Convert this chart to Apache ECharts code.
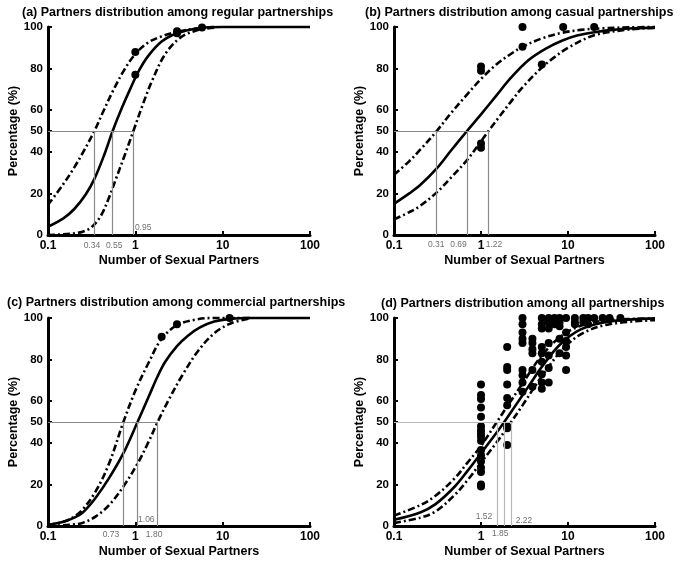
<!DOCTYPE html>
<html>
<head>
<meta charset="utf-8">
<script src="https://cdn.jsdelivr.net/npm/echarts@6/dist/echarts.min.js"></script>
<style>html,body{margin:0;padding:0;background:#fff}#c{width:685px;height:563px}</style>
</head>
<body>
<div id="c"></div>
<script>
// ---------- DATA ----------
const titles = [
  '(a) Partners distribution among regular partnerships',
  '(b) Partners distribution among casual partnerships',
  '(c) Partners distribution among commercial partnerships',
  '(d) Partners distribution among all partnerships'
];
const xName = 'Number of Sexual Partners';
const yName = 'Percentage (%)';
const yTickValues = [0, 20, 40, 50, 60, 80, 100];

// Panel (a)
const aSolid = [[0.1,4],[0.15,8],[0.2,12.5],[0.27,19.5],[0.34,27],[0.44,38.5],[0.55,50],[0.7,61],[0.88,70.5],[1.1,79],[1.4,86],[2,93],[3,97],[5,99.3],[10,100],[100,100]];
const aUpper = [[0.1,14.5],[0.15,24.5],[0.2,32.5],[0.25,39.5],[0.34,50],[0.42,58.5],[0.55,69],[0.75,79.5],[1,87],[1.4,92.5],[2,95.5],[3,97.7],[5,99.3],[8,100]];
const aLower = [[0.1,0],[0.15,0.3],[0.2,0.8],[0.25,1.6],[0.31,3.5],[0.4,9],[0.5,18],[0.6,27],[0.75,38],[0.95,50],[1.2,62],[1.55,74],[2.2,87],[3.3,95],[5,98.3],[8,99.7]];
const aDots = [[1,88],[1,77],[3,97],[3,98],[5.8,99.7]];
const aCross = [0.34, 0.55, 0.95];
const aCrossText = ['0.34', '0.55', '0.95'];

// Panel (b)
const bSolid = [[0.1,15],[0.15,20],[0.2,24],[0.31,32],[0.45,40.5],[0.69,50],[1,58],[1.5,67],[2.2,75.5],[3.5,84],[5.5,89.5],[8.5,93.4],[13,96],[21,97.6],[32,98.6],[50,99.3],[100,99.7]];
const bUpper = [[0.1,29],[0.15,35.5],[0.2,41],[0.31,50],[0.45,58.5],[0.69,67.5],[1,75],[1.5,82],[2.2,87],[3,90.5],[5,94.5],[8.5,97.2],[14,98.6],[25,99.4],[50,99.8],[100,100]];
const bLower = [[0.1,7.5],[0.15,11],[0.2,14],[0.31,20.5],[0.45,27.5],[0.69,36],[1,45],[1.22,50],[1.6,56.5],[2.2,64],[3,71],[5,80.5],[7,85.5],[10,90],[20,96],[50,98.8],[100,99.6]];
const bDots = [[1,81],[1,79],[1,44],[1,42],[3,100],[3,90.5],[5,82],[8.8,100],[20,100]];
const bCross = [0.31, 0.69, 1.22];
const bCrossText = ['0.31', '0.69', '1.22'];

// Panel (c)
const cSolid = [[0.1,0.5],[0.15,2],[0.2,4],[0.25,6.5],[0.35,13.5],[0.5,23],[0.73,35],[1.06,50],[1.4,61.5],[1.8,72],[2.2,79],[3,86.5],[4,91.5],[5.5,95.5],[8,98.3],[12,99.6],[20,100],[100,100]];
const cUpper = [[0.1,0.5],[0.15,2],[0.2,4.5],[0.25,8],[0.35,16.5],[0.5,30],[0.73,50],[1,65],[1.4,78],[2,90],[3,96.5],[5,99.3],[8,100],[22,100]];
const cLower = [[0.1,0],[0.15,0.3],[0.2,0.8],[0.25,1.5],[0.35,4.5],[0.5,10],[0.73,19],[1.06,30],[1.4,40],[1.8,50],[2.4,60.5],[3.4,72],[5.3,84.5],[8.2,93],[12.5,97.5],[20,99.7]];
const cDots = [[2,91],[3,97],[12,100]];
const cCross = [0.73, 1.06, 1.80];
const cCrossText = ['0.73', '1.06', '1.80'];

// Panel (d)
const dSolid = [[0.1,3],[0.2,6.5],[0.3,10.5],[0.5,19],[0.7,26.5],[1,35],[1.4,43],[1.85,50],[2.5,58],[3.5,67],[5,76.5],[8,87],[14,94.5],[30,98.3],[100,99.8]];
const dUpper = [[0.1,5],[0.2,10],[0.3,14.5],[0.5,23],[0.7,30.5],[1,38.5],[1.52,50],[2,57.5],[3,68.5],[5,82],[8.5,91.5],[14.5,96.5],[30,99],[100,99.8]];
const dLower = [[0.1,1.5],[0.2,4],[0.3,7],[0.5,15],[0.7,22],[1,30.5],[1.5,40],[2.22,50],[3,58],[5,72],[8.5,84.5],[14.5,92.5],[30,97],[100,99]];
const dDotX = [1, 2, 3, 3.9, 5, 6, 7, 8, 9.5, 12, 15, 17, 20, 25, 30, 40];
const dDotY = [
  [19,20,26,28,31,34,36.5,41,43,44.5,46,48,52.5,57,61,63,68],
  [39,47,48,58,61.5,68,75,76.5,86],
  [64.5,69,72.5,75,88,90,93,97,100],
  [67,75,83,85,88,90],
  [66,69,73,79,83,86,95,97,100],
  [69,76,82,88,95,98,100],
  [97,99,100],
  [83,90,96,98,100],
  [75,82,86,89,93,100],
  [97,98,100],
  [98,100],
  [97,100],
  [100],
  [100],
  [99.5,100],
  [100]
];
const dCross = [1.52, 1.85, 2.22];
const dCrossText = ['1.52', '1.85', '2.22'];

// ---------- LAYOUT / STYLE ----------
const grids = [
  {left: 48, top: 27, width: 262, height: 208},
  {left: 394, top: 27, width: 261, height: 208},
  {left: 48, top: 318, width: 262, height: 208},
  {left: 394, top: 318, width: 261, height: 208}
];
const titlePos = [{left: 22, top: 6}, {left: 365, top: 6}, {left: 7, top: 296}, {left: 381, top: 297}];
// label placement for crossing-value texts (pixel offsets from the foot of each line)
const crossPlace = [
  [{a: 'center', dx: -2, dy: 11}, {a: 'center', dx: 2, dy: 11}, {a: 'left', dx: 2, dy: -7}],
  [{a: 'center', dx: 0, dy: 10}, {a: 'center', dx: -8, dy: 10}, {a: 'center', dx: 6, dy: 10}],
  [{a: 'center', dx: -12, dy: 9}, {a: 'left', dx: 1, dy: -6}, {a: 'center', dx: -3, dy: 9}],
  [{a: 'right', dx: -4, dy: -9}, {a: 'center', dx: -3.5, dy: 8}, {a: 'left', dx: 5, dy: -5}]
];
const refColor = ['#8a8a8a', '#8a8a8a', '#8a8a8a', '#b8b8b8'];

const panels = [
  {solid: aSolid, upper: aUpper, lower: aLower, dots: aDots, cross: aCross, text: aCrossText},
  {solid: bSolid, upper: bUpper, lower: bLower, dots: bDots, cross: bCross, text: bCrossText},
  {solid: cSolid, upper: cUpper, lower: cLower, dots: cDots, cross: cCross, text: cCrossText},
  {solid: dSolid, upper: dUpper, lower: dLower, dots: [], cross: dCross, text: dCrossText}
];
dDotX.forEach((x, i) => dDotY[i].forEach(y => panels[3].dots.push([x, y])));

const FONT = 'Liberation Sans, Arial, sans-serif';
const option = {
  animation: false,
  backgroundColor: '#fff',
  title: titles.map((t, i) => ({
    text: t, left: titlePos[i].left, top: titlePos[i].top, padding: 0,
    textStyle: {fontFamily: FONT, fontWeight: 'bold', fontSize: 12.5, color: '#000'}
  })),
  grid: grids,
  xAxis: grids.map((g, i) => ({
    type: 'log', logBase: 10, min: 0.1, max: 100, gridIndex: i,
    name: xName, nameLocation: 'middle', nameGap: 19,
    nameTextStyle: {fontFamily: FONT, fontWeight: 'bold', fontSize: 12.5, color: '#000'},
    axisLine: {lineStyle: {color: '#000', width: 3}},
    axisTick: {show: true, inside: true, length: 4, lineStyle: {color: '#000', width: 2}},
    axisLabel: {fontFamily: FONT, fontWeight: 'bold', fontSize: 12, color: '#000', margin: 5},
    splitLine: {show: false}, minorTick: {show: false}
  })),
  yAxis: grids.map((g, i) => ({
    type: 'value', min: 0, max: 100, interval: 10, gridIndex: i,
    name: yName, nameLocation: 'middle', nameGap: 28,
    nameTextStyle: {fontFamily: FONT, fontWeight: 'bold', fontSize: 12.5, color: '#000'},
    axisLine: {show: true, lineStyle: {color: '#000', width: 3}},
    axisTick: {show: true, inside: true, length: 4, customValues: yTickValues, lineStyle: {color: '#000', width: 2}},
    axisLabel: {fontFamily: FONT, fontWeight: 'bold', fontSize: 11.5, color: '#000', margin: 5, customValues: yTickValues},
    splitLine: {show: false}
  })),
  series: []
};

const dashDot = [7, 3, 2, 3];
panels.forEach((p, i) => {
  const maxC = Math.max(...p.cross);
  const ml = [[{coord: [0.1, 50]}, {coord: [maxC, 50]}]];
  p.cross.forEach(c => ml.push([{coord: [c, 0]}, {coord: [c, 50]}]));
  option.series.push({
    type: 'line', xAxisIndex: i, yAxisIndex: i, data: [], silent: true,
    markLine: {silent: true, symbol: 'none', label: {show: false}, animation: false,
      lineStyle: {color: refColor[i], width: 1.2, type: 'solid'}, data: ml}
  });
  option.series.push({
    type: 'line', xAxisIndex: i, yAxisIndex: i, data: p.solid, showSymbol: false,
    smooth: 0.35, clip: false,
    lineStyle: {color: '#000', width: 2.6}
  });
  [p.upper, p.lower].forEach(d => option.series.push({
    type: 'line', xAxisIndex: i, yAxisIndex: i, data: d, showSymbol: false,
    smooth: 0.35, clip: false,
    lineStyle: {color: '#000', width: 2.6, type: dashDot}
  }));
  option.series.push({
    type: 'scatter', xAxisIndex: i, yAxisIndex: i, data: p.dots, symbolSize: 8, clip: false,
    itemStyle: {color: '#000', opacity: 1}
  });
  option.series.push({
    type: 'scatter', xAxisIndex: i, yAxisIndex: i, symbolSize: 1, clip: false, silent: true,
    itemStyle: {color: 'rgba(0,0,0,0)'},
    data: p.cross.map((c, k) => {
      const pl = crossPlace[i][k];
      return {value: [c, 0], label: {show: true, formatter: p.text[k],
        position: [pl.dx, pl.dy], align: pl.a, verticalAlign: 'middle',
        fontFamily: FONT, fontSize: 8.5, color: '#4a4a4a'}};
    })
  });
});

const chart = echarts.init(document.getElementById('c'), null, {renderer: 'canvas'});
chart.setOption(option);
</script>
</body>
</html>
